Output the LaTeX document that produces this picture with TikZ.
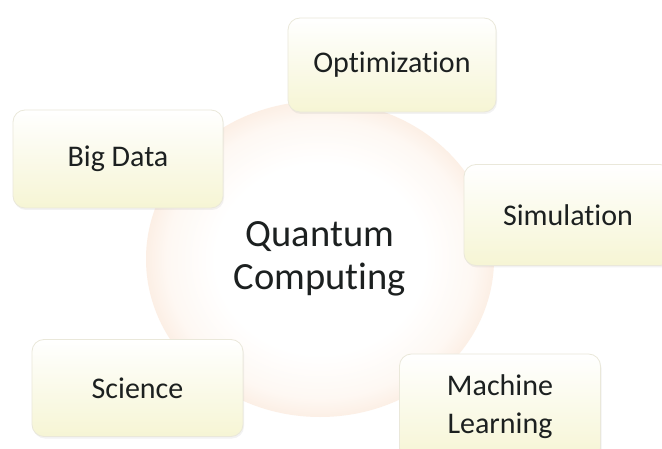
\documentclass[tikz,border=0pt]{standalone}
\usepackage{fontspec}
\setmainfont[Ligatures=NoCommon]{Carlito}
\usetikzlibrary{shapes.geometric,shadows}
\definecolor{txt}{RGB}{28,32,32}
\definecolor{boxbot}{RGB}{246,245,212}
\definecolor{boxline}{RGB}{234,232,218}
\definecolor{qcedge}{RGB}{252,239,229}
\definecolor{qcmid}{RGB}{254,248,243}
\pgfdeclareradialshading{qcshade}{\pgfpoint{0bp}{0bp}}{color(0bp)=(white); color(15bp)=(white); color(22bp)=(qcmid); color(25bp)=(qcedge); color(50bp)=(qcedge)}
\tikzset{
  appbox/.style={rectangle, rounded corners=12pt, draw=boxline, line width=0.8pt,
    top color=white, bottom color=boxbot, align=center, text=txt,
    font=\fontsize{30}{38}\selectfont,
    drop shadow={opacity=0.1, shadow xshift=1pt, shadow yshift=-2pt}},
  core/.style={ellipse, shade, shading=qcshade, minimum width=348pt, minimum height=316pt,
    align=center, text=txt, font=\fontsize{38.5}{43}\selectfont}
}
\begin{document}
\begin{tikzpicture}[x=1pt,y=-1pt]
  \fill[white] (0,0) rectangle (662,449);
  \useasboundingbox (0,0) rectangle (662,449);
  \clip (0,0) rectangle (662,449);
  \node[core] (qc) at (320,259) {Quantum\\Computing};
  \node[appbox, minimum width=208pt, minimum height=94pt] (opt) at (392,65) {Optimization};
  \node[appbox, minimum width=210pt, minimum height=98pt] (big) at (118,159) {Big Data};
  \node[appbox, minimum width=208pt, minimum height=101pt] (sim) at (568,215) {Simulation};
  \node[appbox, minimum width=211pt, minimum height=97pt] (sci) at (137.5,388) {Science};
  \node[appbox, minimum width=201pt, minimum height=106pt] (ml) at (500,407) {Machine\\Learning};
\end{tikzpicture}
\end{document}
